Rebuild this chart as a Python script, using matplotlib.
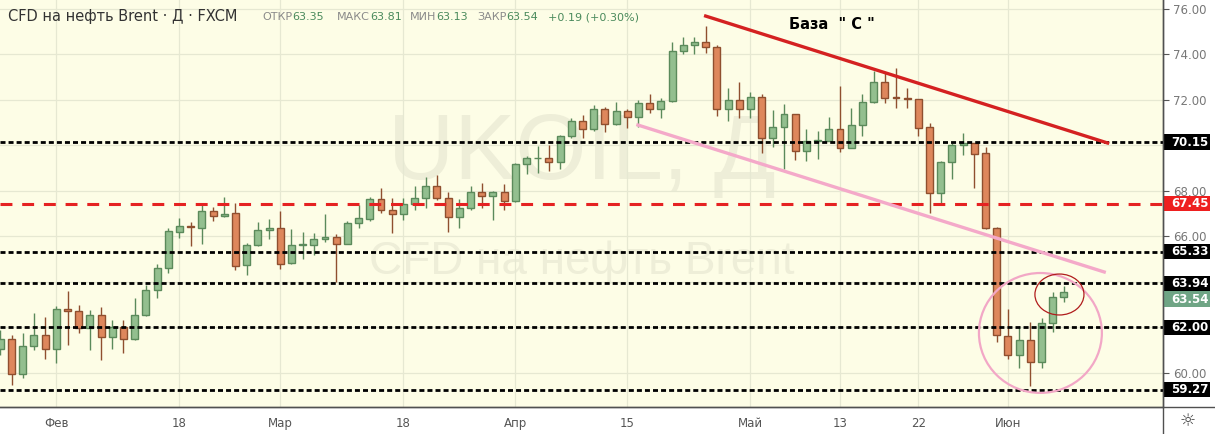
import numpy as np
import matplotlib.pyplot as plt
from matplotlib import transforms
from matplotlib.patches import Rectangle, Ellipse
from matplotlib.lines import Line2D

# daily candles, CFD Brent (FXCM)
opens = [61.06, 61.49, 59.96, 61.19, 61.67, 61.06, 62.81, 62.73, 61.98, 62.55,
         61.58, 62.02, 61.49, 62.55, 63.65, 64.62, 66.20, 66.46, 66.37, 67.12,
         66.90, 67.03, 64.75, 65.63, 66.29, 66.37, 64.83, 65.61, 65.63, 65.89,
         65.98, 65.67, 66.59, 66.77, 67.65, 67.17, 66.99, 67.43, 67.69, 68.22,
         67.69, 66.86, 67.25, 67.96, 67.78, 67.96, 67.56, 69.19, 69.43, 69.45,
         69.28, 70.42, 71.08, 70.73, 71.60, 70.95, 71.52, 71.25, 71.87, 71.60,
         71.96, 74.15, 74.42, 74.55, 74.33, 71.60, 72.00, 71.60, 72.13, 70.33,
         70.81, 71.38, 69.76, 70.18, 70.20, 70.73, 69.89, 70.90, 71.91, 72.79,
         72.11, 72.07, 72.04, 70.81, 67.91, 69.28, 70.02, 70.11, 69.67, 66.37,
         61.63, 60.79, 61.45, 60.48, 62.20, 63.35]
highs = [61.89, 61.67, 61.76, 62.64, 62.46, 62.95, 63.60, 62.99, 62.77, 62.90,
         62.33, 62.33, 63.30, 63.87, 64.79, 66.37, 66.81, 66.64, 67.47, 67.30,
         67.74, 67.47, 65.71, 66.64, 66.77, 67.12, 66.33, 66.20, 66.15, 66.99,
         66.11, 66.68, 67.38, 67.74, 68.13, 67.69, 67.69, 68.22, 68.62, 68.70,
         67.96, 67.65, 68.22, 68.35, 67.98, 68.31, 69.23, 69.54, 69.98, 70.02,
         70.45, 71.21, 71.34, 71.78, 71.69, 71.91, 71.60, 72.00, 72.26, 72.09,
         74.55, 74.77, 74.77, 75.25, 74.42, 72.53, 72.79, 72.35, 72.26, 71.56,
         71.82, 71.40, 70.73, 70.64, 71.25, 72.62, 71.65, 72.26, 73.27, 73.19,
         73.41, 72.53, 72.05, 70.99, 69.32, 70.11, 70.55, 70.13, 69.93, 66.40,
         62.81, 62.07, 62.24, 62.42, 63.56, 63.81]
lows = [60.79, 59.47, 59.78, 61.01, 60.62, 60.44, 61.23, 61.76, 61.01, 60.57,
        61.06, 60.88, 61.45, 62.50, 63.30, 64.40, 65.93, 65.58, 65.67, 66.68,
        66.86, 64.53, 64.31, 65.60, 65.89, 64.57, 64.80, 65.01, 65.19, 65.76,
        64.00, 65.65, 66.37, 66.68, 67.03, 66.15, 66.73, 67.17, 67.25, 67.60,
        66.20, 66.37, 67.17, 67.25, 66.73, 67.17, 67.52, 68.75, 68.79, 68.88,
        68.97, 70.33, 70.33, 70.64, 70.59, 70.90, 70.77, 70.81, 71.43, 71.21,
        71.93, 74.02, 74.02, 74.07, 71.30, 71.08, 71.21, 71.21, 69.67, 69.93,
        68.97, 69.36, 69.32, 69.41, 70.18, 69.71, 69.87, 70.42, 71.87, 71.87,
        71.65, 71.65, 70.42, 67.03, 67.38, 68.53, 69.58, 68.13, 66.33, 61.36,
        60.62, 60.22, 59.43, 60.22, 61.80, 63.13]
closes = [61.49, 59.96, 61.19, 61.67, 61.06, 62.81, 62.73, 61.98, 62.55, 61.58,
          62.02, 61.49, 62.55, 63.65, 64.62, 66.24, 66.46, 66.42, 67.12, 66.90,
          66.99, 64.70, 65.63, 66.29, 66.37, 64.79, 65.63, 65.65, 65.89, 65.98,
          65.67, 66.59, 66.81, 67.65, 67.17, 66.99, 67.43, 67.69, 68.22, 67.69,
          66.86, 67.25, 67.96, 67.78, 67.96, 67.56, 69.19, 69.45, 69.47, 69.28,
          70.42, 71.08, 70.73, 71.60, 70.95, 71.52, 71.25, 71.87, 71.60, 71.96,
          74.15, 74.42, 74.55, 74.33, 71.60, 72.00, 71.60, 72.13, 70.33, 70.81,
          71.38, 69.76, 70.20, 70.22, 70.73, 69.89, 70.90, 71.91, 72.79, 72.09,
          72.07, 72.03, 70.77, 67.91, 69.28, 70.02, 70.11, 69.63, 66.37, 61.67,
          60.79, 61.45, 60.48, 62.20, 63.35, 63.54]

tick_pos = [5, 16, 25, 36, 46, 56, 67, 75, 82, 90]
tick_labels = ['Фев', '18', 'Мар', '18', 'Апр', '15', 'Май', '13', '22', 'Июн']
price_ticks = [60, 62, 64, 66, 68, 70, 72, 74, 76]

black_levels = [70.15, 65.33, 63.94, 62.00, 59.27]
red_level = 67.45
last_price = 63.54

red_trend_x = [63.0, 98.9]
red_trend_y = [75.69, 70.11]
pink_trend_x = [56.95, 98.6]
pink_trend_y = [70.90, 64.44]

W, H = 1215, 434
fig = plt.figure(figsize=(W / 100, H / 100), dpi=100, facecolor='white')
ax = fig.add_axes([0, 27 / H, 1163 / W, 407 / H])
ax.set_facecolor('#fdfde6')

x = np.arange(len(opens))
o = np.array(opens)
c = np.array(closes)
up = c >= o
fill = np.where(up, '#93bf8f', '#de875c')
edge = np.where(up, '#5b8a5b', '#8f4f2f')

# wicks then bodies
ax.vlines(x, lows, highs, colors=edge, lw=1, zorder=3)
body = np.maximum(np.abs(c - o), 0.04)
ax.bar(x, body, bottom=np.minimum(o, c), width=0.62, color=fill,
       edgecolor=edge, linewidth=1, zorder=4)

# watermark
ax.text(51.95, 69.58, 'UKOIL, Д', fontsize=66, color='#eeeed8', ha='center',
        va='center', family='Liberation Sans', zorder=0.5)
ax.text(51.95, 64.88, 'CFD на нефть Brent', fontsize=33, color='#eeeed8',
        ha='center', va='center', family='Liberation Sans', zorder=0.5)

# levels
for lv in black_levels:
    ax.axhline(lv, color='black', lw=2, dashes=(1.8, 1.1), zorder=5)
ax.axhline(red_level, color='#e52222', lw=2.2, dashes=(3.9, 3.2), zorder=5)

# trend lines and circles
ax.plot(red_trend_x, red_trend_y, color='#d42121', lw=2.4, zorder=6)
ax.plot(pink_trend_x, pink_trend_y, color='#f4a9c9', lw=2.4, zorder=6)
ax.add_patch(Ellipse((92.9, 61.76), 10.98, 5.27, fill=False,
                     edgecolor='#f2a7c6', lw=1.6, zorder=6))
ax.add_patch(Ellipse((94.6, 63.45), 4.38, 1.80, fill=False,
                     edgecolor='#b01c1c', lw=0.9, zorder=6))
ax.text(74.3, 75.3, 'База  " С "', fontsize=10.5, fontweight='bold',
        color='black', ha='center', va='center', zorder=7)

ax.set_xlim(-0.03, 103.85)
ax.set_ylim(58.505, 76.3956)

# axes styling; labels hidden behind the level boxes are left blank
hidden = [62, 64, 70]
ax.yaxis.tick_right()
ax.set_yticks(price_ticks)
ax.set_yticklabels(['' if v in hidden else f'{v:.2f}' for v in price_ticks])
ax.tick_params(axis='y', length=4, color='#555555', labelcolor='#777777',
               labelsize=8.5, pad=3)
ax.set_xticks(tick_pos)
ax.set_xticklabels(tick_labels)
ax.tick_params(axis='x', length=0, pad=7, labelsize=8.5, labelcolor='#555555')
ax.grid(color='#e6e8d2', lw=0.9, zorder=0)
ax.set_axisbelow(True)
for s in ['top', 'left']:
    ax.spines[s].set_visible(False)
for s in ['right', 'bottom']:
    ax.spines[s].set_color('#505050')
    ax.spines[s].set_linewidth(1)

# price labels on the right scale (last price box sits just under 63.94)
trans = transforms.blended_transform_factory(fig.transFigure, ax.transData)
boxes = [(lv, lv, 'black') for lv in black_levels]
boxes += [(red_level, red_level, '#ee1f1f'), (last_price, 63.25, '#6fa585')]
for lv, ypos, col in boxes:
    ax.add_patch(Rectangle((1164 / W, ypos - 0.34), 46 / W, 0.68, transform=trans,
                           facecolor=col, edgecolor='none', clip_on=False, zorder=8))
    ax.text(1171 / W, ypos, f'{lv:.2f}', transform=trans, color='white',
            fontsize=8.5, fontweight='bold', ha='left', va='center',
            clip_on=False, zorder=9)

fig.add_artist(Line2D([1163 / W] * 2, [0, 1], transform=fig.transFigure,
                      color='#505050', lw=1))
fig.add_artist(Line2D([0, 1], [27 / H] * 2, transform=fig.transFigure,
                      color='#505050', lw=1))
fig.text(1188 / W, 1 - 421 / H, '☼', fontsize=13, ha='center', va='center',
         color='#444444')

# header
ty = 1 - 17 / H
fig.text(8 / W, ty, 'CFD на нефть Brent · Д · FXCM', fontsize=10.5,
         color='#333333', va='center')
header = [(262, 'ОТКР', '63.35'), (337, 'МАКС', '63.81'), (410, 'МИН', '63.13'),
          (477, 'ЗАКР', '63.54')]
renderer = fig.canvas.get_renderer()
for px, lab, val in header:
    t = fig.text(px / W, ty, lab, fontsize=8, color='#8a8a8a', va='center')
    w = t.get_window_extent(renderer).width
    fig.text((px + w) / W, ty, val, fontsize=8, color='#4a8a5c', va='center')
fig.text(548 / W, ty, '+0.19 (+0.30%)', fontsize=8, color='#4a8a5c', va='center')

fig.savefig('out.png', dpi=100, facecolor=fig.get_facecolor())
